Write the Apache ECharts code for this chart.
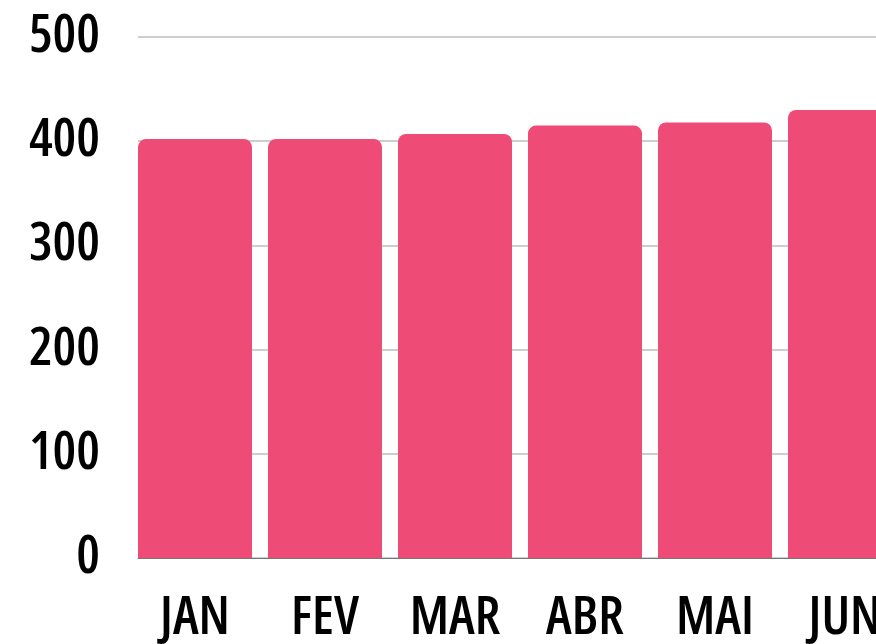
<!DOCTYPE html>
<html>
<head>
<meta charset="utf-8">
<script src="https://cdn.jsdelivr.net/npm/echarts@6/dist/echarts.min.js"></script>
<style>
  html, body { margin: 0; padding: 0; background: #fff; }
  #chart { width: 876px; height: 644px; }
</style>
</head>
<body>
<div id="chart"></div>
<script>
const months = ["JAN", "FEV", "MAR", "ABR", "MAI", "JUN"];
const values = [402, 402, 407, 415, 418, 430];
const yTicks = [0, 100, 200, 300, 400, 500];

// condensed Open Sans, closest to the narrow display face of the original
const labelFont = {
  color: "#000",
  fontFamily: "'Open Sans'",
  fontStyle: "condensed",
  fontWeight: 600,
  fontSize: 53,
};

const chart = echarts.init(document.getElementById("chart"));

chart.setOption({
  animation: false,
  grid: { left: 138, right: -42, top: 37, bottom: 86, outerBoundsMode: "none" },
  xAxis: {
    type: "category",
    data: months,
    axisTick: { show: false },
    axisLine: { lineStyle: { color: "#777", width: 1 } },
    axisLabel: {
      ...labelFont,
      interval: 0,
      margin: 34,
      // bars sit flush left in each band, so pull labels back to the bar centre
      padding: [0, 16, 0, 0],
    },
  },
  yAxis: {
    type: "value",
    min: yTicks[0],
    max: yTicks[yTicks.length - 1],
    interval: 100,
    axisLine: { show: false },
    axisTick: { show: false },
    splitLine: { lineStyle: { color: "#bdbdbd", width: 1.5 } },
    axisLabel: {
      ...labelFont,
      margin: 38,
    },
  },
  series: [
    {
      type: "bar",
      data: values,
      barWidth: 114,
      barGap: "0%",
      barCategoryGap: "0%",
      itemStyle: { color: "#ef4b77", borderRadius: [8, 8, 0, 0] },
      z: 3,
    },
    {
      // empty spacer that fills the gap to the right of each bar
      type: "bar",
      data: [],
      barWidth: 16,
    },
  ],
});
</script>
</body>
</html>
